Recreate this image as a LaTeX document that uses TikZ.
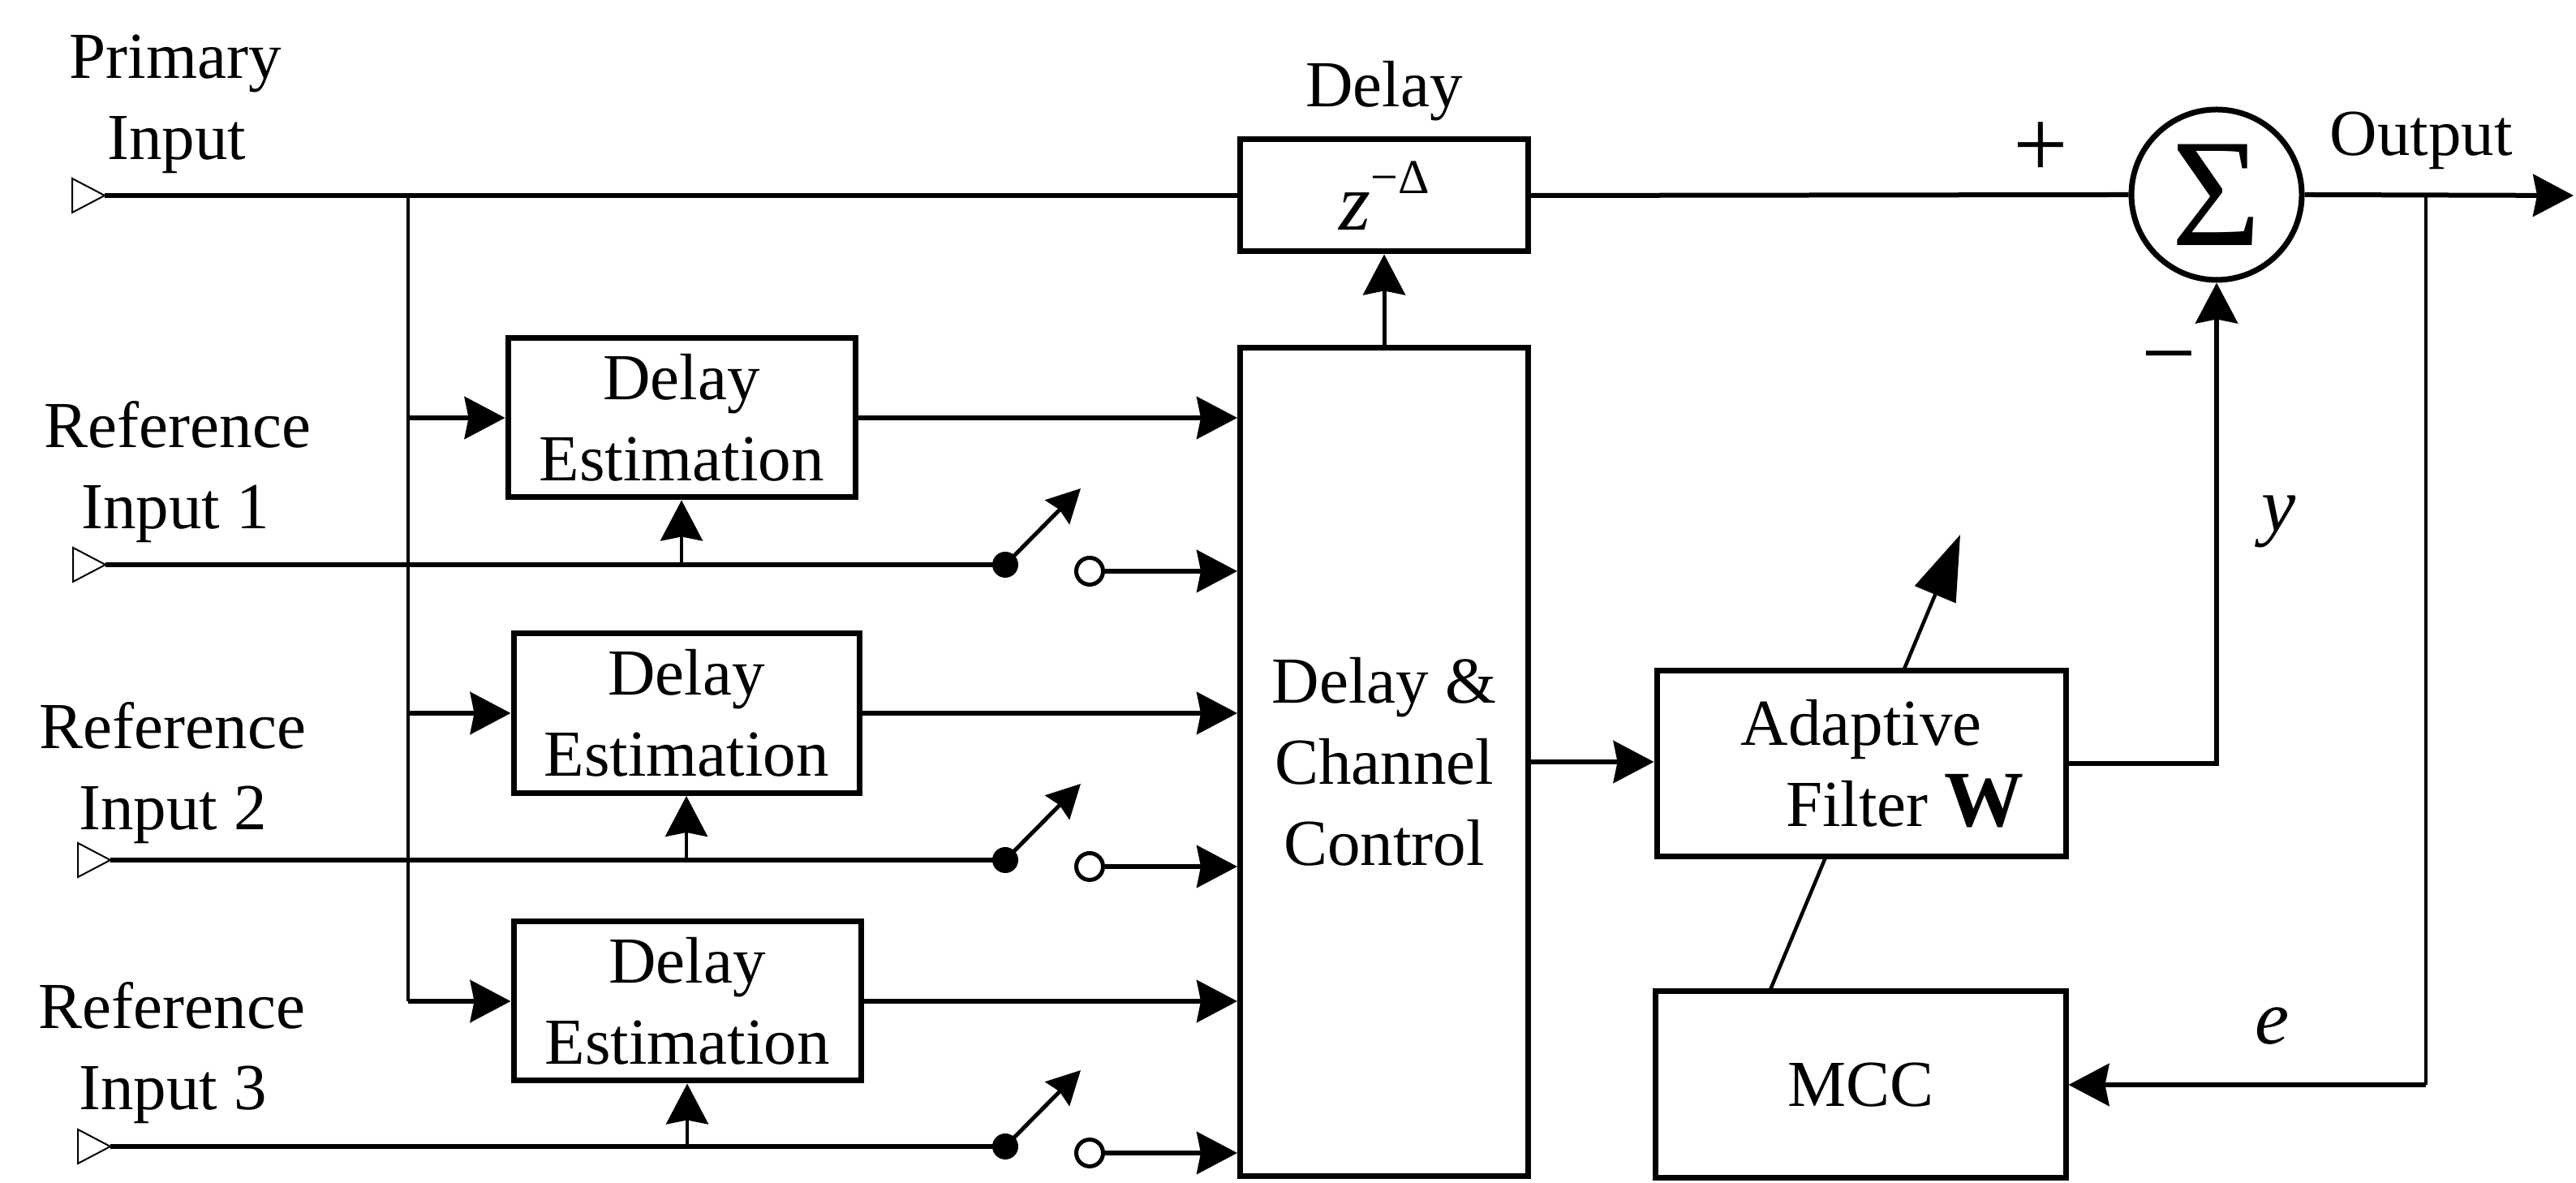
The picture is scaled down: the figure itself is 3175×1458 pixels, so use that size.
\documentclass[tikz,border=0pt]{standalone}
\usepackage{fontspec}
\setmainfont{Liberation Serif}
\usetikzlibrary{arrows.meta,backgrounds}
\begin{document}
\begin{tikzpicture}[x=0.1pt,y=-0.1pt,
  ln/.style={line width=0.6pt},
  thinln/.style={line width=0.45pt},
  arr/.style={-{Stealth[length=5pt,width=5.2pt,inset=0.5pt]}},
  sarr/.style={-{Stealth[length=4.1pt,width=4.2pt,inset=0.4pt]}},
  box/.style={draw,line width=0.7pt,fill=white,inner sep=0pt,align=center,font=\fontsize{8.1}{10}\selectfont},
  txt/.style={inner sep=0pt,anchor=base,font=\fontsize{8.1}{10}\selectfont},
  mathtxt/.style={inner sep=0pt,anchor=base,font=\fontsize{9.5}{10}\selectfont\itshape},
  sign/.style={inner sep=0pt,font=\fontsize{12}{12}\selectfont},
  inmark/.style={line width=0.2pt,fill=white},
  opencirc/.style={draw,circle,line width=0.5pt,fill=white,minimum size=3.3pt,inner sep=0pt},
]
\useasboundingbox (0,0) rectangle (3175,1458);

% blocks
\node[box,minimum width=35.5pt,minimum height=13.8pt] (dly) at (1706,241)
  {\fontsize{10}{12}\selectfont\textit{z}\raisebox{4.5pt}{\fontsize{6}{7}\selectfont −Δ}};
\node[box,minimum width=35.5pt,minimum height=102.2pt] (dcc) at (1706,939) {Delay \&\\Channel\\Control};
\node[box,minimum width=42.8pt,minimum height=19.6pt] (de1) at (840,515) {Delay\\Estimation};
\node[box,minimum width=42.6pt,minimum height=19.7pt] (de2) at (846,879) {Delay\\Estimation};
\node[box,minimum width=42.8pt,minimum height=19.6pt] (de3) at (847,1234) {Delay\\Estimation};
\node[box,minimum width=50.4pt,minimum height=22.9pt] (af) at (2294,941)
  {Adaptive\\\hspace*{10.8pt}Filter {\fontsize{9.8}{10}\selectfont\bfseries W}};
\node[box,minimum width=50.6pt,minimum height=23pt] (mcc) at (2293,1337) {MCC};
\node[draw,circle,line width=0.7pt,fill=white,minimum size=21pt,inner sep=0pt] (sum) at (2732,240)
  {\fontsize{19}{20}\selectfont Σ};

% coordinates
\coordinate (pin) at (129,241);
\coordinate (br0) at (503,241);
\coordinate (br3) at (503,1234);
\coordinate (tap) at (2990,241);
\coordinate (outend) at (3172,241);
\coordinate (r1) at (130,696);
\coordinate (r2) at (136,1060);
\coordinate (r3) at (136,1413);
\coordinate (sw1) at (1239,696);
\coordinate (sw2) at (1239,1060);
\coordinate (sw3) at (1239,1413);
\coordinate (adjA) at (2181,1222);
\coordinate (adjB) at (2416,659);

\node[opencirc] (oc1) at (1343,704) {};
\node[opencirc] (oc2) at (1343,1068) {};
\node[opencirc] (oc3) at (1343,1421) {};

% adaptive arrow behind the filter box
\begin{pgfonlayer}{background}
\draw[line width=0.45pt,-{Triangle[length=8pt,width=5.4pt]}] (adjA) -- (adjB);
\end{pgfonlayer}

% primary path
\draw[ln] (pin) -- (dly.west);
\draw[ln] (dly.east) -- (sum.west);
\draw[ln,arr] (sum.east) -- (outend);
\draw[line width=0.5pt,arr] (dcc.north) -- (dly.south);

% branch to delay estimators
\draw[thinln] (br0) -- (br3);
\draw[ln,arr] (br0 |- de1.west) -- (de1.west);
\draw[ln,arr] (br0 |- de2.west) -- (de2.west);
\draw[ln,arr] (br3) -- (de3.west);

% estimator outputs
\draw[ln,arr] (de1.east) -- (de1.east -| dcc.west);
\draw[ln,arr] (de2.east) -- (de2.east -| dcc.west);
\draw[ln,arr] (de3.east) -- (de3.east -| dcc.west);

% reference inputs
\foreach \r/\s/\o/\d in {r1/sw1/oc1/de1, r2/sw2/oc2/de2, r3/sw3/oc3/de3}{
  \draw[inmark] (\r) -- ++(-40,-21) -- ++(0,42) -- cycle;
  \draw[ln] (\r) -- (\s);
  \draw[thinln,arr] (\r -| \d.south) -- (\d.south);
  \fill (\s) circle (1.6pt);
  \draw[line width=0.5pt,sarr] (\s) -- ++(93,-94);
  \draw[ln,arr] (\o.east) -- (\o.east -| dcc.west);
}
\draw[inmark] (pin) -- ++(-40,-21) -- ++(0,42) -- cycle;

% control to filter, filter to sum, feedback
\draw[ln,arr] (dcc.east) -- (dcc.east -| af.west);
\draw[ln,arr] (af.east) -- (af.east -| sum.south) -- (sum.south);
\draw[thinln] (tap) -- (tap |- mcc.east);
\draw[ln,arr] (tap |- mcc.east) -- (mcc.east);

% labels
\node[txt] (lp1) at (216,97) {Primary};
\node[txt] (lp2) at (218,197) {Input};
\node[txt] (la1) at (219,552) {Reference};
\node[txt] (la2) at (216,652) {Input 1};
\node[txt] (lb1) at (213,923) {Reference};
\node[txt] (lb2) at (213,1023) {Input 2};
\node[txt] (lc1) at (212,1268) {Reference};
\node[txt] (lc2) at (213,1368) {Input 3};
\node[txt] (ldly) at (1706,132) {Delay};
\node[txt] (lout) at (2984,192) {Output};
\node[sign] (lplus) at (2515,185) {+};
\node[sign] (lminus) at (2673,454) {−};
\node[mathtxt] (ly) at (2809,655) {y};
\node[mathtxt] (le) at (2801,1287) {e};
\end{tikzpicture}
\end{document}
